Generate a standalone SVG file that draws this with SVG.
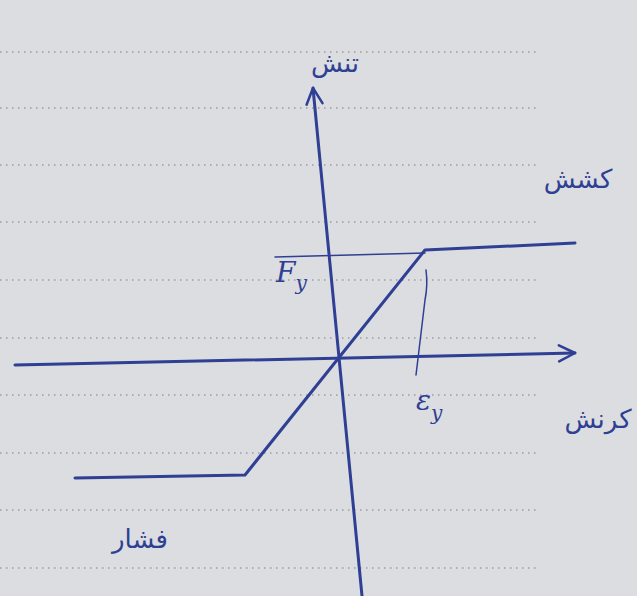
<svg xmlns="http://www.w3.org/2000/svg" width="637" height="596" viewBox="0 0 637 596">
<style>
.rule{stroke:#9a9ca3;stroke-width:1.6;stroke-dasharray:1.5 4.5;fill:none}
.ink{stroke:#2e3f94;fill:none;stroke-linecap:round;stroke-linejoin:round}
.thick{stroke-width:3}
.thin{stroke-width:1.5}
.lbl{fill:#2e3f94;font-family:"DejaVu Sans",sans-serif;font-size:26px}
.sym{fill:#2e3f94;font-family:"DejaVu Serif",serif;font-style:italic;font-size:28px}
</style>
<defs>
<marker id="arr" viewBox="0 0 20 20" refX="18" refY="10" markerWidth="20" markerHeight="20" markerUnits="userSpaceOnUse" orient="auto">
<path d="M2,2 L18,10 L2,18" fill="none" stroke="#2e3f94" stroke-width="2.5" stroke-linecap="round" stroke-linejoin="round"/>
</marker>
</defs>
<rect width="637" height="596" fill="#dcdde0"/>
<g id="paper">
<path class="rule" d="M0,52 H540 M0,108 H540 M0,165 H540 M0,222 H540 M0,280 H540 M0,338 H540 M0,395 H540 M0,453 H540 M0,510 H540 M0,568 H540"/>
</g>
<g id="connectors">
<path id="y-axis" class="ink thick" d="M362,596 L313,88" marker-end="url(#arr)"/>
<path id="x-axis" class="ink thick" d="M15,365 L575,353" marker-end="url(#arr)"/>
<path id="curve" class="ink thick" d="M75,478 L245,475 L425,250 L575,243"/>
<path id="fy-line" class="ink thin" d="M275,257 L425,253"/>
<path id="ey-line" class="ink thin" d="M426,270 Q428,285 425,300 L416,375"/>
</g>
<g id="label-stress"><text class="lbl" x="335" y="72" text-anchor="middle">تنش</text></g>
<g id="label-tension"><text class="lbl" x="578" y="188" text-anchor="middle">کشش</text></g>
<g id="label-strain"><text class="lbl" x="598" y="428" text-anchor="middle">کرنش</text></g>
<g id="label-compression"><text class="lbl" x="140" y="548" text-anchor="middle">فشار</text></g>
<g id="label-fy"><text class="sym" x="276" y="282">F<tspan font-size="20" dy="8">y</tspan></text></g>
<g id="label-ey"><text class="sym" x="416" y="410">ε<tspan font-size="20" dy="10">y</tspan></text></g>
</svg>
